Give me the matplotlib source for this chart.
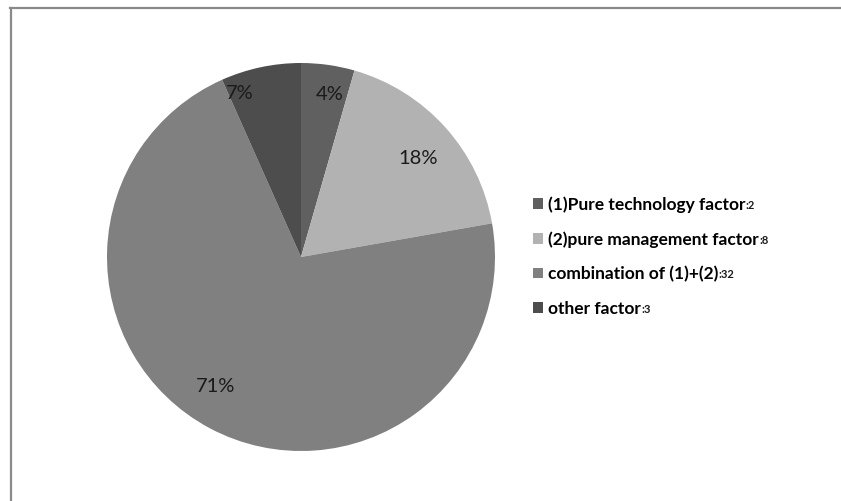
import matplotlib
matplotlib.use("Agg")
import matplotlib.pyplot as plt
import numpy as np
from matplotlib.lines import Line2D

names = ["(1)Pure technology factor", "(2)pure management factor",
         "combination of (1)+(2)", "other factor"]
counts = [2, 8, 32, 3]
colors = ["#606060", "#b2b2b2", "#808080", "#4d4d4d"]

# label placement style (radius fraction, angle shift in degrees)
label_r = [0.85, 0.79, 0.80, 0.90]
label_shift = [-2, -2, -5.4, 8.5]

W, H = 841, 501
fig = plt.figure(figsize=(W / 100, H / 100), dpi=100)
fig.patch.set_facecolor("white")

# outer frame: only top and left edges are visible
fc = "#8a8a8a"
fig.add_artist(Line2D([10 / W, 1.01], [1 - 7.5 / H, 1 - 7.5 / H], transform=fig.transFigure,
                      color=fc, linewidth=1.6))
fig.add_artist(Line2D([10.5 / W, 10.5 / W], [-0.01, 1 - 7.5 / H], transform=fig.transFigure,
                      color=fc, linewidth=1.6))

cx, cy, r = 301, H - 257, 194
ax = fig.add_axes([(cx - r) / W, (cy - r) / H, 2 * r / W, 2 * r / H])
wedges, texts, autotexts = ax.pie(
    counts, colors=colors, startangle=90, counterclock=False, radius=1.0,
    autopct=lambda p: f"{p:.0f}%", pctdistance=0.82,
    wedgeprops=dict(linewidth=0),
    textprops=dict(fontsize=14.5, color="#1a1a1a", family="Lato"))
for w, t, rr, sh in zip(wedges, autotexts, label_r, label_shift):
    mid = np.deg2rad((w.theta1 + w.theta2) / 2 + sh)
    t.set_position((rr * np.cos(mid), rr * np.sin(mid)))
ax.set_xlim(-1, 1)
ax.set_ylim(-1, 1)
ax.axis("off")

leg = fig.legend(wedges, names, loc="upper left", bbox_to_anchor=(533 / W, 1 - 196 / H),
                 frameon=False, borderpad=0, borderaxespad=0,
                 handlelength=0.58, handleheight=0.58, handletextpad=0.3,
                 labelspacing=1.06, prop=dict(family="Lato", size=12.5, weight="bold"))

# small count suffix after each legend entry
fig.canvas.draw()
renderer = fig.canvas.get_renderer()
for txt, c in zip(leg.get_texts(), counts):
    bb = txt.get_window_extent(renderer)
    fig.text(bb.x1 / W, (bb.y0 + 4) / H, f":{c}", fontsize=8, family="Lato",
             weight="bold", color="#1a1a1a", ha="left", va="baseline")

fig.savefig("out.png", dpi=100)
